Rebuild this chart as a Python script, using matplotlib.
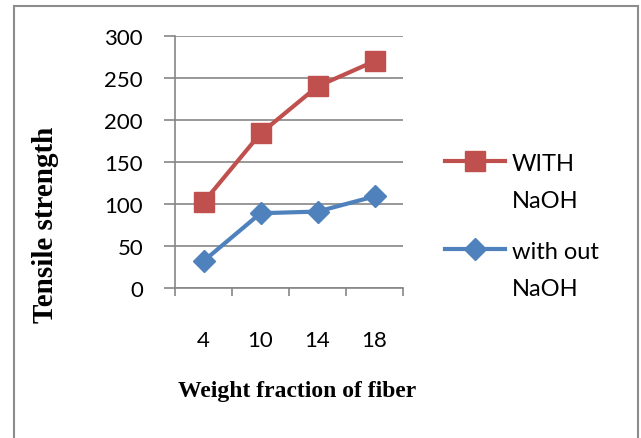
import matplotlib.pyplot as plt
from matplotlib.patches import Rectangle
from matplotlib.lines import Line2D

categories = ["4", "10", "14", "18"]
with_naoh = [102, 184, 240, 270]
without_naoh = [32, 89, 91, 109]
series_names = ["WITH\nNaOH", "with out\nNaOH"]

red = "#C0504D"
blue = "#4F81BD"
grid_c = "#868686"

fig = plt.figure(figsize=(6.41, 4.39), dpi=100)
W, H = 641, 439
# outer chart frame
fig.patches.append(Rectangle((14 / W, -0.05), (638 - 14) / W, 1.05 - 7 / H,
                             transform=fig.transFigure, fill=False,
                             edgecolor="#8c8c8c", linewidth=1.5))

ax = fig.add_axes([175 / W, 1 - 289 / H, (403 - 175) / W, (289 - 37) / H])
x = list(range(len(categories)))
ax.plot(x, with_naoh, color=red, lw=3, marker="s", ms=14)
ax.plot(x, without_naoh, color=blue, lw=3, marker="D", ms=11)

ax.set_xlim(-0.5, 3.5)
ax.set_ylim(0, 300)
ax.set_yticks(range(0, 301, 50))
ax.set_xticks(x)
ax.set_xticklabels(categories)
ax.set_xticks([-0.5, 0.5, 1.5, 2.5, 3.5], minor=True)
ax.tick_params(axis="x", which="major", length=0, pad=30, labelsize=16)
ax.tick_params(axis="x", which="minor", length=6, color=grid_c, width=1.2, direction="out")
ax.tick_params(axis="y", length=8, color=grid_c, width=1.2, pad=15, labelsize=16)
for lab in ax.get_xticklabels() + ax.get_yticklabels():
    lab.set_family("Lato")
ax.grid(axis="y", color=grid_c, lw=1.2)
ax.set_axisbelow(True)
for s in ["top", "right"]:
    ax.spines[s].set_visible(False)
for s in ["left", "bottom"]:
    ax.spines[s].set_color(grid_c)
    ax.spines[s].set_linewidth(1.2)

fig.text(46 / W, 1 - 225 / H, "Tensile strength", rotation=90, ha="center", va="center",
         family="Liberation Serif", weight="bold", fontsize=21)
fig.text(297 / W, 1 - 392 / H, "Weight fraction of fiber", ha="center", va="center",
         family="Liberation Serif", weight="bold", fontsize=17)

# legend drawn by hand so the key sits level with the first text line
styles = [dict(color=red, lw=3, marker="s", ms=14), dict(color=blue, lw=3, marker="D", ms=11)]
for name, st, yp in zip(series_names, styles, [162, 250]):
    fig.add_artist(Line2D([445 / W, 475 / W, 505 / W], [1 - yp / H] * 3,
                          transform=fig.transFigure, markevery=[1], **st))
    fig.text(512 / W, 1 - (yp - 8) / H, name, ha="left", va="top",
             family="Lato", fontsize=17, linespacing=1.95)

fig.savefig("out.png", dpi=100)
